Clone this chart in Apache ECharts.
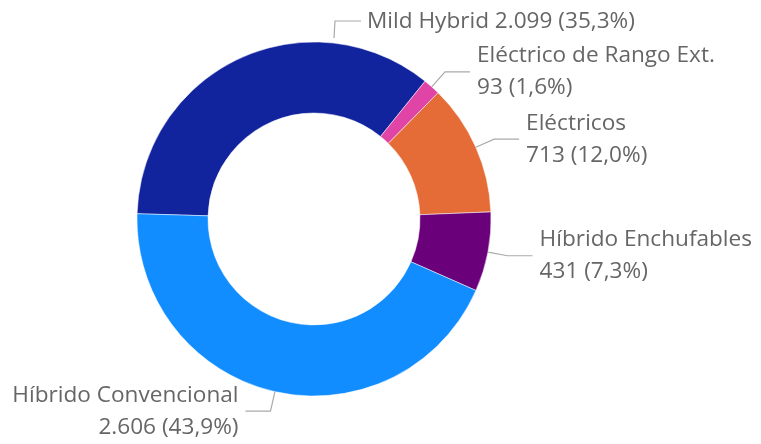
<!DOCTYPE html>
<html>
<head>
<meta charset="utf-8">
<script src="https://cdn.jsdelivr.net/npm/echarts@6/dist/echarts.min.js"></script>
<style>
  html, body { margin: 0; padding: 0; background: #fff; }
  #donut { width: 761px; height: 444px; }
</style>
</head>
<body>
<div id="donut"></div>
<script>
var categories = ['Mild Hybrid', 'Eléctrico de Rango Ext.', 'Eléctricos', 'Híbrido Enchufables', 'Híbrido Convencional'];
var values = [2099, 93, 713, 431, 2606];
var colors = ['#12239E', '#E044A7', '#E66C37', '#6B007B', '#118DFF'];

var total = values.reduce(function (a, b) { return a + b; }, 0);

// formato español: 2.099 y 35,3%
function fmtNum(n) {
    return String(n).replace(/\B(?=(\d{3})+(?!\d))/g, '.');
}
function fmtPct(n) {
    return (n / total * 100).toFixed(1).replace('.', ',') + '%';
}

var donut = echarts.init(document.getElementById('donut'));

option = {
    backgroundColor: '#ffffff',
    textStyle: {
        fontFamily: 'Open Sans'
    },
    series: [
        {
            type: 'pie',
            center: [314, 219],
            radius: [106, 177],
            startAngle: 178.3,
            clockwise: true,
            avoidLabelOverlap: false,
            data: categories.map(function (c, i) {
                return { name: c, value: values[i], itemStyle: { color: colors[i] } };
            }),
            itemStyle: {
                borderColor: '#ffffff',
                borderWidth: 0.5
            },
            label: {
                show: true,
                position: 'outside',
                color: '#666666',
                fontSize: 22.6,
                lineHeight: 32,
                distanceToLabelLine: 7,
                formatter: function (p) {
                    if (p.dataIndex === 0) {
                        return p.name + ' ' + fmtNum(p.value) + ' (' + fmtPct(p.value) + ')';
                    }
                    return p.name + '\n' + fmtNum(p.value) + ' (' + fmtPct(p.value) + ')';
                }
            },
            labelLine: {
                show: true,
                length: 20,
                length2: 25,
                lineStyle: { color: '#aaaaaa', width: 1.2 }
            },
            labelLayout: function (params) {
                // Mild Hybrid: etiqueta arriba a la derecha, como en el original
                if (params.dataIndex === 0) {
                    return {
                        x: 367,
                        y: 22,
                        align: 'left',
                        verticalAlign: 'middle',
                        labelLinePoints: [[334, 38], [335, 21], [361, 21]]
                    };
                }
                return {};
            }
        }
    ]
};

donut.setOption(option);
</script>
</body>
</html>
